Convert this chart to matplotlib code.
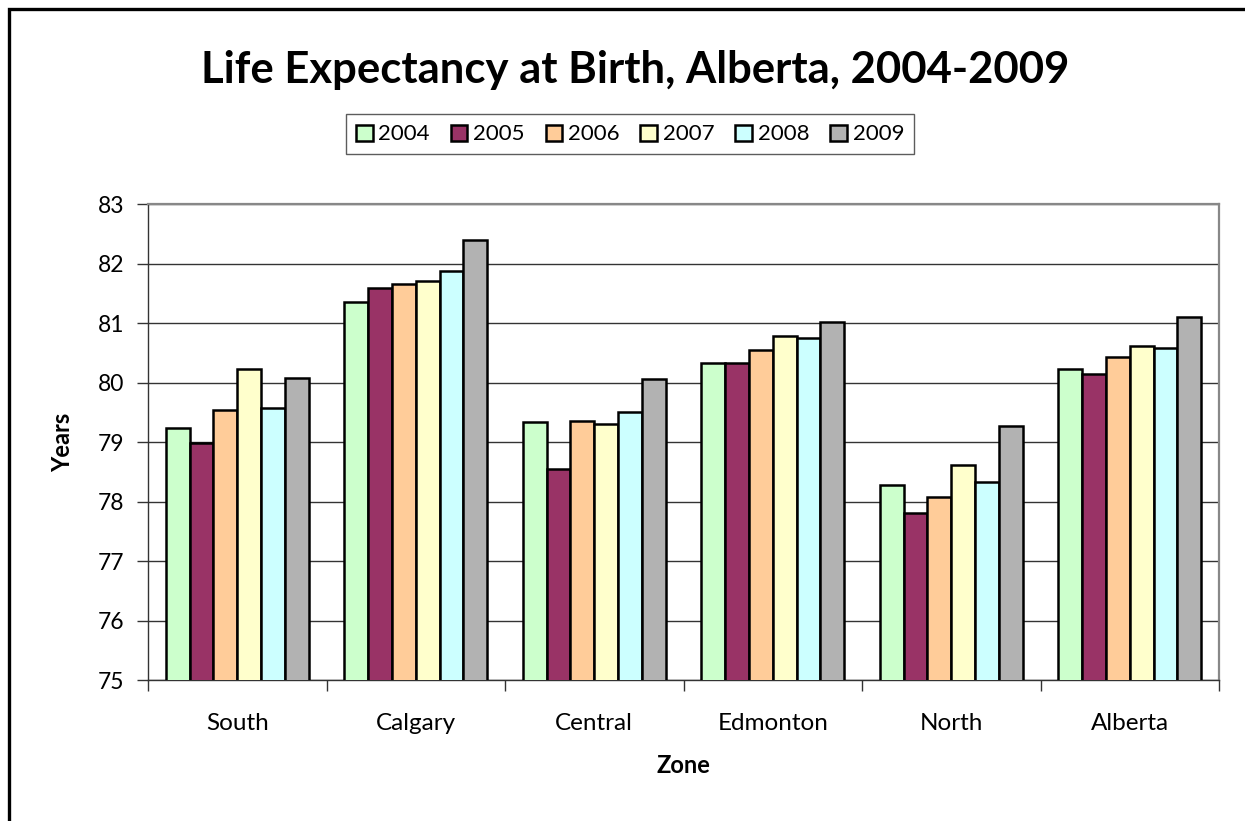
import matplotlib.pyplot as plt
import numpy as np
from matplotlib.patches import Rectangle

plt.rcParams['font.family'] = ['Lato', 'DejaVu Sans']

# datos
zones = ["South", "Calgary", "Central", "Edmonton", "North", "Alberta"]
years = ["2004", "2005", "2006", "2007", "2008", "2009"]
v2004 = [79.24, 81.35, 79.33, 80.33, 78.27, 80.23]
v2005 = [78.98, 81.59, 78.54, 80.33, 77.80, 80.15]
v2006 = [79.54, 81.65, 79.36, 80.54, 78.08, 80.43]
v2007 = [80.23, 81.70, 79.30, 80.78, 78.62, 80.61]
v2008 = [79.57, 81.87, 79.50, 80.75, 78.33, 80.58]
v2009 = [80.08, 82.39, 80.06, 81.01, 79.27, 81.10]
series = [v2004, v2005, v2006, v2007, v2008, v2009]
colors = ["#CCFFCC", "#993366", "#FFCC99", "#FFFFCC", "#CCFFFF", "#B2B2B2"]

fig = plt.figure(figsize=(12.45, 8.21), dpi=100)
ax = fig.add_axes([148/1245, 1-680/821, (1219-148)/1245, (680-204)/821])

# marco exterior (cortado a la derecha y abajo)
fig.patches.append(Rectangle((9/1245, -0.1), 1.2, 1-9/821+0.1, transform=fig.transFigure,
                             fill=False, edgecolor="black", linewidth=2.4, zorder=0))

x = np.arange(len(zones))
w = 1/7.5
for i in range(len(series)):
    ax.bar(x + (i-2.5)*w, series[i], w, bottom=0, color=colors[i], edgecolor="black",
           linewidth=1.8, label=years[i], zorder=3)

ax.set_ylim(75, 83)
ax.set_xlim(-0.5, 5.5)
ax.set_yticks(range(75, 84))
ax.yaxis.grid(True, color="#333333", linewidth=1.0, zorder=0)
ax.set_axisbelow(True)

ax.set_xticks(x)
ax.set_xticklabels(zones, fontsize=17.5)
ax.set_xticks(np.arange(-0.5, 6, 1), minor=True)
ax.tick_params(axis="x", which="major", length=0, pad=24)
ax.tick_params(axis="x", which="minor", length=8, width=1, color="#333333", direction="out")
ax.tick_params(axis="y", length=8, width=1, color="#333333", labelsize=16.5, pad=9)

for s in ["top", "right"]:
    ax.spines[s].set_color("#888888")
    ax.spines[s].set_linewidth(1.6)
for s in ["left", "bottom"]:
    ax.spines[s].set_color("#333333")
    ax.spines[s].set_linewidth(1.0)

ax.set_ylabel("Years", fontsize=17, fontweight="bold", labelpad=17)
ax.set_xlabel("Zone", fontsize=17, fontweight="bold", labelpad=14)

fig.text(635/1245, 1-70/821, "Life Expectancy at Birth, Alberta, 2004-2009",
         fontsize=31.4, fontweight="bold", ha="center", va="center")

leg = fig.legend(loc="center", bbox_to_anchor=(630/1245, 1-134.5/821), ncol=6, fontsize=16,
                 frameon=True, fancybox=False, edgecolor="#333333", handlelength=0.75,
                 handleheight=0.75, handletextpad=0.25, columnspacing=0.95, borderpad=0.45)
leg.get_frame().set_linewidth(1.0)
for p in leg.get_patches():
    p.set_linewidth(1.8)

plt.savefig("out.png", dpi=100)
